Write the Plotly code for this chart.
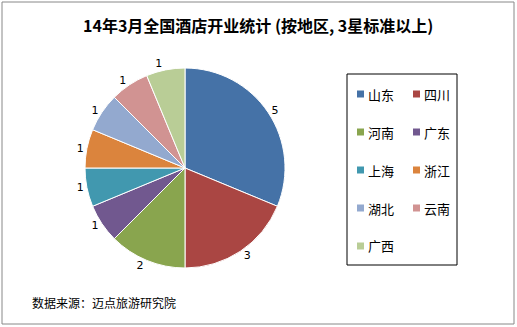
import plotly.graph_objects as go

regions = ["山东", "四川", "河南", "广东", "上海", "浙江", "湖北", "云南", "广西"]
counts = [5, 3, 2, 1, 1, 1, 1, 1, 1]
colors = ["#4572A7", "#AA4643", "#89A54E", "#71588F", "#4198AF",
          "#DB843D", "#93A9CF", "#D19392", "#B9CD96"]
title = "14年3月全国酒店开业统计 (按地区, 3星标准以上)"
source = "数据来源：迈点旅游研究院"

W, H = 517, 327
font = "Noto Sans CJK SC"

fig = go.Figure(go.Pie(
    labels=regions, values=counts, sort=False, direction="clockwise", rotation=0,
    marker=dict(colors=colors, line=dict(color="white", width=1)),
    textinfo="value", textposition="outside",
    textfont=dict(family="DejaVu Sans", size=11, color="black"),
    domain=dict(x=[85 / W, 285 / W], y=[(H - 268) / H, (H - 68) / H]),
    showlegend=False, hoverinfo="label+value",
))

shapes = [
    dict(type="rect", xref="paper", yref="paper", x0=2 / W, x1=514 / W, y0=(H - 324) / H, y1=(H - 2) / H,
         line=dict(color="#888888", width=1)),
    dict(type="rect", xref="paper", yref="paper", x0=347 / W, x1=457 / W, y0=(H - 265) / H, y1=(H - 74) / H,
         line=dict(color="black", width=1)),
]
annotations = [
    dict(text="<b>" + title + "</b>", x=258 / W, y=(H - 25) / H, xref="paper", yref="paper",
         showarrow=False, font=dict(family=font, size=16, color="black"), xanchor="center", yanchor="middle"),
    dict(text=source, x=30 / W, y=(H - 302) / H, xref="paper", yref="paper",
         showarrow=False, font=dict(family=font, size=12, color="black"), xanchor="left", yanchor="middle"),
]
for i, (lab, col) in enumerate(zip(regions, colors)):
    c, r = i % 2, i // 2
    sx = 357 + c * 56
    sy = 94 + r * 38
    shapes.append(dict(type="rect", xref="paper", yref="paper",
                       x0=sx / W, x1=(sx + 7) / W, y0=(H - sy - 3.5) / H, y1=(H - sy + 3.5) / H,
                       fillcolor=col, line=dict(width=0)))
    annotations.append(dict(text=lab, x=(sx + 9) / W, y=(H - sy) / H, xref="paper", yref="paper",
                            showarrow=False, xanchor="left", yanchor="middle",
                            font=dict(family=font, size=13, color="black")))

fig.update_layout(
    width=W, height=H, margin=dict(l=0, r=0, t=0, b=0),
    paper_bgcolor="white", plot_bgcolor="white",
    shapes=shapes, annotations=annotations,
)
fig.write_html("out.html")
